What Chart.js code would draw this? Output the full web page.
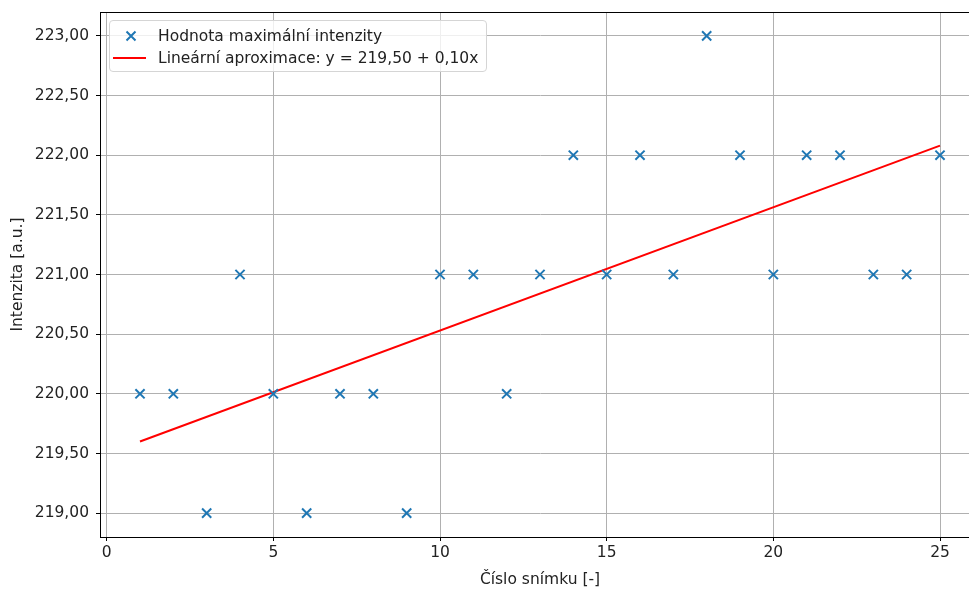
<!DOCTYPE html>
<html>
<head>
<meta charset="utf-8">
<script src="https://cdn.jsdelivr.net/npm/chart.js@4/dist/chart.umd.min.js"></script>
<style>
    html, body { margin: 0; padding: 0; background: #fff; overflow: hidden; }
    #wrap { position: relative; width: 990px; height: 589px; }
    #legend {
        position: absolute; left: 109px; top: 20px;
        padding: 4px 8px 2px 1px;
        border: 1px solid #d5d5d5; border-radius: 4px;
        background: rgba(255, 255, 255, 0.8);
        font-family: "DejaVu Sans", sans-serif; font-size: 15.5px; color: #222;
    }
    #legend .row { display: flex; align-items: center; height: 22px; }
    #legend svg { width: 36px; height: 14px; margin-right: 11px; }
</style>
</head>
<body>
<div id="wrap">
    <canvas id="chart" width="990" height="589"></canvas>
    <div id="legend"></div>
</div>
<script>
// data
const frameNumbers = [1, 2, 3, 4, 5, 6, 7, 8, 9, 10, 11, 12, 13, 14, 15, 16, 17, 18, 19, 20, 21, 22, 23, 24, 25];
const maxIntensity = [220, 220, 219, 221, 220, 219, 220, 220, 219, 221, 221, 220, 221, 222, 221, 222, 221, 223, 222, 221, 222, 222, 221, 221, 222];
const fitX = [1, 25];
const fitY = [219.60, 222.08];
const xTicks = [0, 5, 10, 15, 20, 25];
const yTicks = [219, 219.5, 220, 220.5, 221, 221.5, 222, 222.5, 223];

const scatterLabel = 'Hodnota maximální intenzity';
const fitLabel = 'Lineární aproximace: y = 219,50 + 0,10x';

const blue = '#1f77b4';
const red = '#ff0000';
const font = { family: '"DejaVu Sans", sans-serif', size: 15.5 };

function fmt(v) {
    return v.toFixed(2).replace('.', ',');
}

// box around the plot area like matplotlib spines
const frame = {
    id: 'frame',
    afterDraw(chart) {
        const a = chart.chartArea;
        const c = chart.ctx;
        c.save();
        c.strokeStyle = '#000';
        c.lineWidth = 1;
        c.strokeRect(a.left + 0.5, a.top + 0.5, a.right - a.left, a.bottom - a.top);
        c.restore();
    }
};

const chart = new Chart(document.getElementById('chart'), {
    type: 'scatter',
    data: {
        datasets: [
            {
                label: scatterLabel,
                data: frameNumbers.map((x, i) => ({ x: x, y: maxIntensity[i] })),
                pointStyle: 'crossRot',
                pointRadius: 6.5,
                pointBorderWidth: 2,
                borderColor: blue,
                backgroundColor: blue,
                order: 1
            },
            {
                type: 'line',
                label: fitLabel,
                data: fitX.map((x, i) => ({ x: x, y: fitY[i] })),
                borderColor: red,
                borderWidth: 2,
                pointRadius: 0,
                fill: false,
                order: 2
            }
        ]
    },
    options: {
        responsive: false,
        animation: false,
        layout: { padding: { top: 12, right: 10, left: 0, bottom: 0 } },
        plugins: {
            legend: { display: false },
            tooltip: { enabled: false }
        },
        scales: {
            x: {
                type: 'linear',
                min: -0.2,
                max: 26.2,
                afterFit: s => { s.height = 52; s.paddingLeft = 0; s.paddingRight = 0; },
                afterBuildTicks: s => { s.ticks = xTicks.map(v => ({ value: v })); },
                grid: { color: '#b0b0b0', lineWidth: 1, tickColor: '#000', tickLength: 4 },
                border: { color: '#000' },
                ticks: { font: font, color: '#222', padding: 3, maxRotation: 0, callback: v => String(v) },
                title: { display: true, text: 'Číslo snímku [-]', font: font, color: '#222', padding: { top: 2, bottom: 0 } }
            },
            y: {
                type: 'linear',
                min: 218.8,
                max: 223.2,
                afterFit: s => { s.width = 100; s.paddingTop = 0; s.paddingBottom = 0; },
                afterBuildTicks: s => { s.ticks = yTicks.map(v => ({ value: v })); },
                grid: { color: '#b0b0b0', lineWidth: 1, tickColor: '#000', tickLength: 4 },
                border: { color: '#000' },
                ticks: { font: font, color: '#222', padding: 7, callback: v => fmt(v) },
                title: { display: true, text: 'Intenzita [a.u.]', font: font, color: '#222', padding: { top: 9, bottom: 4 } }
            }
        }
    },
    plugins: [frame]
});

// legend inside the plot, built from the datasets
const legend = document.getElementById('legend');
chart.data.datasets.forEach(ds => {
    const row = document.createElement('div');
    row.className = 'row';
    const icon = ds.type === 'line'
        ? '<svg viewBox="0 0 36 14"><line x1="2" y1="7" x2="35" y2="7" stroke="' + ds.borderColor + '" stroke-width="2"/></svg>'
        : '<svg viewBox="0 0 36 14"><path d="M15.5 2.5 L24.5 11.5 M24.5 2.5 L15.5 11.5" stroke="' + ds.borderColor + '" stroke-width="2"/></svg>';
    row.innerHTML = icon + '<span>' + ds.label + '</span>';
    legend.appendChild(row);
});
</script>
</body>
</html>
